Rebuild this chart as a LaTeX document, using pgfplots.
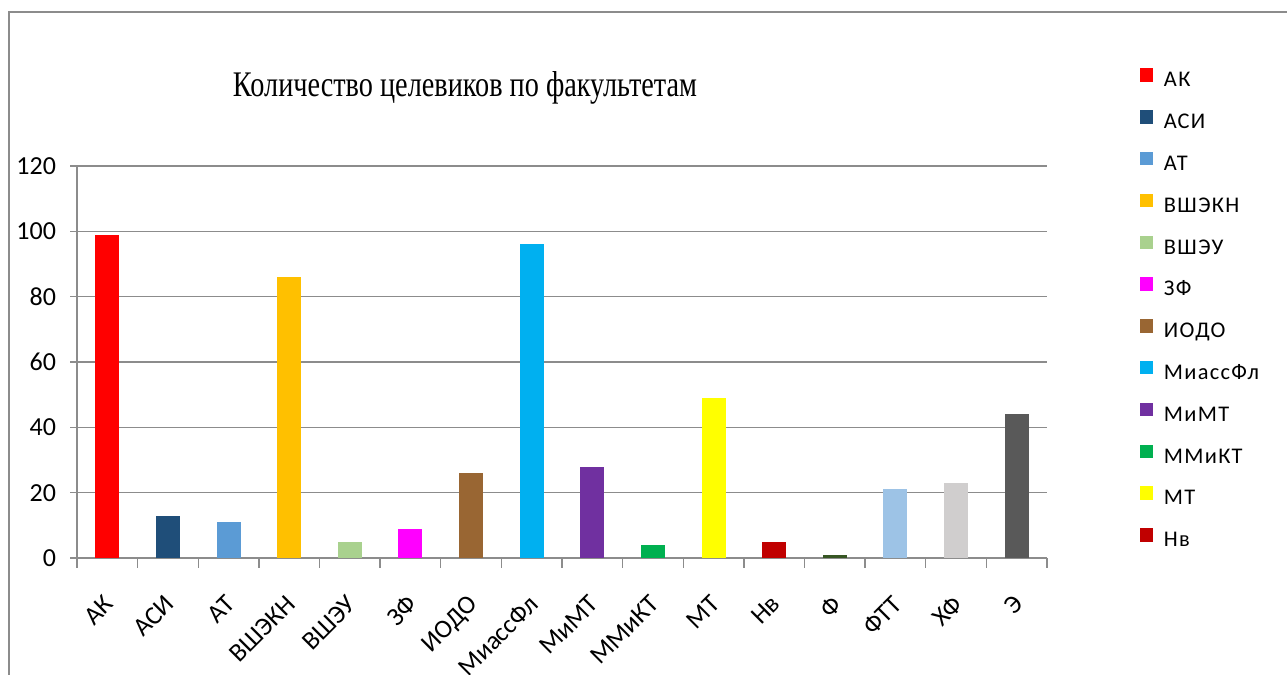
\documentclass[border=0pt]{standalone}
\usepackage{fontspec}
\setmainfont{Carlito}
\newfontfamily\titlefont[FakeStretch=0.785]{Liberation Serif}
\newfontfamily\legfont[LetterSpace=6]{Carlito}
\usepackage{pgfplots}
\pgfplotsset{compat=1.18}

\definecolor{cAK}{HTML}{FF0000}
\definecolor{cASI}{HTML}{1F4E79}
\definecolor{cAT}{HTML}{5B9BD5}
\definecolor{cVSHEKN}{HTML}{FFC000}
\definecolor{cVSHEU}{HTML}{A9D18E}
\definecolor{cZF}{HTML}{FF00FF}
\definecolor{cIODO}{HTML}{996633}
\definecolor{cMiass}{HTML}{00B0F0}
\definecolor{cMiMT}{HTML}{7030A0}
\definecolor{cMMiKT}{HTML}{00B050}
\definecolor{cMT}{HTML}{FFFF00}
\definecolor{cNv}{HTML}{C00000}
\definecolor{cF}{HTML}{375623}
\definecolor{cFTT}{HTML}{9DC3E6}
\definecolor{cHF}{HTML}{D0CECE}
\definecolor{cE}{HTML}{595959}
\definecolor{gridc}{HTML}{8C8C8C}

\begin{document}
\begin{tikzpicture}[x=1pt,y=1pt]
\path[use as bounding box] (0,0) rectangle (643.5,337.5);
\draw[gridc, line width=1pt] (4.5,-10) |- (660,331.5);
\node[anchor=base, font=\titlefont\fontsize{18}{20}\selectfont] at (232.5,289) {Количество целевиков по факультетам};
\begin{axis}[
  at={(38.5pt,58.5pt)}, anchor=south west,
  scale only axis, width=485pt, height=196pt,
  ybar, bar width=12pt, /pgf/bar shift=0pt,
  xmin=-0.5, xmax=15.5, ymin=0, ymax=120,
  ytick={0,20,...,120},
  xtick={0,...,15},
  xticklabels={АК,АСИ,АТ,ВШЭКН,ВШЭУ,ЗФ,ИОДО,МиассФл,МиМТ,ММиКТ,МТ,Нв,Ф,ФТТ,ХФ,Э},
  minor xtick={-0.5,0.5,...,15.5},
  major x tick style={draw=none},
  minor x tick style={gridc, line width=0.65pt},
  minor tick length=5pt,
  major tick length=3.5pt,
  tick align=outside,
  y tick style={gridc, line width=0.65pt},
  axis x line*=bottom, axis y line*=left,
  axis line style={gridc, line width=0.65pt, -},
  ymajorgrids, grid style={gridc, line width=0.65pt},
  /pgf/number format/assume math mode=true,
  tick label style={font=\fontsize{13}{14}\selectfont},
  yticklabel style={xshift=-3.5pt},
  xticklabel style={rotate=45, anchor=north east, inner sep=1pt, xshift=-10.5pt, yshift=-7.5pt},
  legend style={draw=none, fill=none, at={(1.095,1.25)}, anchor=north west,
    font=\legfont\fontsize{11.2}{12}\selectfont, inner sep=0pt, row sep=9.7pt,
    nodes={inner sep=0pt, text height=7pt, text depth=2pt, anchor=west},
    /tikz/every odd column/.append style={column sep=5.5pt}},
  legend cell align=left,
  legend image code/.code={\fill[#1] (0pt,0pt) rectangle (6.7pt,6.7pt);},
]
\addplot[fill=cAK, draw=none] coordinates {(0,99)}; \addlegendentry{АК}
\addplot[fill=cASI, draw=none] coordinates {(1,13)}; \addlegendentry{АСИ}
\addplot[fill=cAT, draw=none] coordinates {(2,11)}; \addlegendentry{АТ}
\addplot[fill=cVSHEKN, draw=none] coordinates {(3,86)}; \addlegendentry{ВШЭКН}
\addplot[fill=cVSHEU, draw=none] coordinates {(4,5)}; \addlegendentry{ВШЭУ}
\addplot[fill=cZF, draw=none] coordinates {(5,9)}; \addlegendentry{ЗФ}
\addplot[fill=cIODO, draw=none] coordinates {(6,26)}; \addlegendentry{ИОДО}
\addplot[fill=cMiass, draw=none] coordinates {(7,96)}; \addlegendentry{МиассФл}
\addplot[fill=cMiMT, draw=none] coordinates {(8,28)}; \addlegendentry{МиМТ}
\addplot[fill=cMMiKT, draw=none] coordinates {(9,4)}; \addlegendentry{ММиКТ}
\addplot[fill=cMT, draw=none] coordinates {(10,49)}; \addlegendentry{МТ}
\addplot[fill=cNv, draw=none] coordinates {(11,5)}; \addlegendentry{Нв}
\addplot[fill=cF, draw=none, forget plot] coordinates {(12,1)};
\addplot[fill=cFTT, draw=none, forget plot] coordinates {(13,21)};
\addplot[fill=cHF, draw=none, forget plot] coordinates {(14,23)};
\addplot[fill=cE, draw=none, forget plot] coordinates {(15,44)};
\end{axis}
\end{tikzpicture}
\end{document}
